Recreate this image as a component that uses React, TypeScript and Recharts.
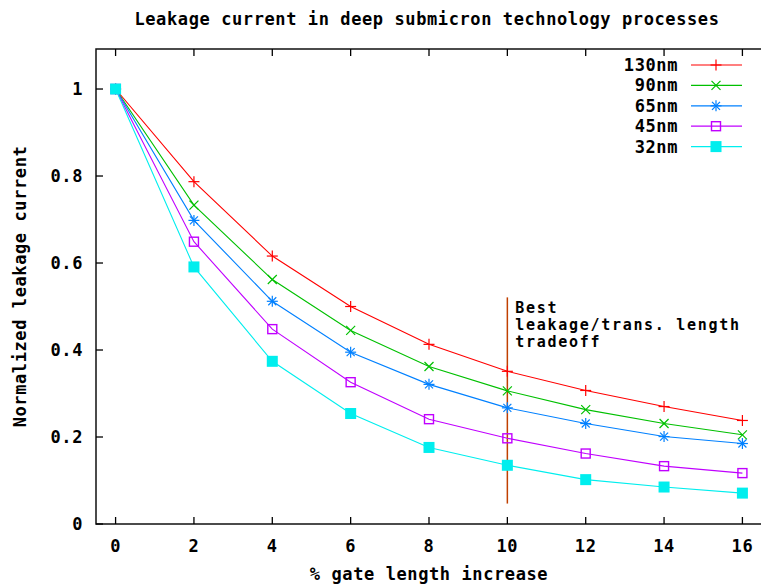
import React from 'react';
import {
  LineChart,
  Line,
  XAxis,
  YAxis,
  ReferenceArea,
  ReferenceLine,
  ReferenceDot,
  Legend,
} from 'recharts';

// % gate length increase
const gateIncrease = [0, 2, 4, 6, 8, 10, 12, 14, 16];

const leak130 = [1, 0.787, 0.616, 0.5, 0.413, 0.351, 0.307, 0.27, 0.238];
const leak90 = [1, 0.733, 0.562, 0.445, 0.362, 0.306, 0.263, 0.231, 0.205];
const leak65 = [1, 0.698, 0.512, 0.395, 0.321, 0.267, 0.231, 0.201, 0.185];
const leak45 = [1, 0.649, 0.448, 0.326, 0.241, 0.197, 0.162, 0.133, 0.117];
const leak32 = [1, 0.591, 0.374, 0.254, 0.176, 0.135, 0.102, 0.085, 0.071];

const xTicks = [0, 2, 4, 6, 8, 10, 12, 14, 16];
const yTicks = [0, 0.2, 0.4, 0.6, 0.8, 1];
const yTickLabels = ['0', '0.2', '0.4', '0.6', '0.8', '1'];

const tradeoffX = 10;
const tradeoffRange = [0.047, 0.521];
const tradeoffNote = ['Best', 'leakage/trans. length', 'tradeoff'];

const FONT = '"DejaVu Sans Mono", "Liberation Mono", monospace';

type Marker = 'plus' | 'cross' | 'star' | 'box' | 'boxFilled';

const series = [
  { key: 'n130', name: '130nm', values: leak130, color: '#ff0000', marker: 'plus' as Marker },
  { key: 'n90', name: '90nm', values: leak90, color: '#00c000', marker: 'cross' as Marker },
  { key: 'n65', name: '65nm', values: leak65, color: '#0080ff', marker: 'star' as Marker },
  { key: 'n45', name: '45nm', values: leak45, color: '#c000ff', marker: 'box' as Marker },
  { key: 'n32', name: '32nm', values: leak32, color: '#00eeee', marker: 'boxFilled' as Marker },
];

const data = gateIncrease.map((x, i) => {
  const row: Record<string, number> = { x };
  series.forEach((s) => {
    row[s.key] = s.values[i];
  });
  return row;
});

function drawMarker(kind: Marker, cx: number, cy: number, color: string) {
  const sw = 1.2;
  if (kind === 'plus') {
    return (
      <g stroke={color} strokeWidth={sw}>
        <line x1={cx - 5.5} y1={cy} x2={cx + 5.5} y2={cy} />
        <line x1={cx} y1={cy - 5.5} x2={cx} y2={cy + 5.5} />
      </g>
    );
  }
  if (kind === 'cross') {
    return (
      <g stroke={color} strokeWidth={sw}>
        <line x1={cx - 4.5} y1={cy - 4.5} x2={cx + 4.5} y2={cy + 4.5} />
        <line x1={cx - 4.5} y1={cy + 4.5} x2={cx + 4.5} y2={cy - 4.5} />
      </g>
    );
  }
  if (kind === 'star') {
    return (
      <g stroke={color} strokeWidth={sw}>
        <line x1={cx - 5.5} y1={cy} x2={cx + 5.5} y2={cy} />
        <line x1={cx} y1={cy - 5.5} x2={cx} y2={cy + 5.5} />
        <line x1={cx - 4} y1={cy - 4} x2={cx + 4} y2={cy + 4} />
        <line x1={cx - 4} y1={cy + 4} x2={cx + 4} y2={cy - 4} />
      </g>
    );
  }
  if (kind === 'box') {
    return <rect x={cx - 4.5} y={cy - 4.5} width={9} height={9} fill="none" stroke={color} strokeWidth={1.4} />;
  }
  return <rect x={cx - 5.5} y={cy - 5.5} width={11} height={11} fill={color} stroke="none" />;
}

const makeDot = (kind: Marker, color: string) => (props: any) => {
  const { cx, cy, index } = props;
  if (cx == null || cy == null) return <g key={index} />;
  return <g key={index}>{drawMarker(kind, cx, cy, color)}</g>;
};

const textStyle = { fontFamily: FONT, fontWeight: 700, fontSize: 17, letterSpacing: 0.6, fill: '#000' };

const BottomTick = (props: any) => {
  const { x, y, payload } = props;
  return (
    <g>
      <line x1={x} y1={y} x2={x} y2={y - 7} stroke="#000" strokeWidth={1.3} />
      <text x={x} y={y + 28} textAnchor="middle" style={textStyle}>
        {payload.value}
      </text>
    </g>
  );
};

const TopTick = (props: any) => {
  const { x, y } = props;
  return <line x1={x} y1={y} x2={x} y2={y + 7} stroke="#000" strokeWidth={1.3} />;
};

const LeftTick = (props: any) => {
  const { x, y, payload } = props;
  const idx = yTicks.indexOf(payload.value);
  return (
    <g>
      <line x1={x} y1={y} x2={x + 7} y2={y} stroke="#000" strokeWidth={1.3} />
      <text x={x - 13} y={y + 6} textAnchor="end" style={textStyle}>
        {idx >= 0 ? yTickLabels[idx] : payload.value}
      </text>
    </g>
  );
};

const RightTick = (props: any) => {
  const { x, y } = props;
  return <line x1={x} y1={y} x2={x - 7} y2={y} stroke="#000" strokeWidth={1.3} />;
};

const renderLegend = () => (
  <svg width={761} height={170} style={{ position: 'absolute', left: 0, top: 0 }}>
    {series.map((s, i) => {
      const cy = 65 + i * 20.4;
      return (
        <g key={s.key}>
          <text x={678} y={cy + 6} textAnchor="end" style={textStyle}>
            {s.name}
          </text>
          <line x1={691} y1={cy} x2={742} y2={cy} stroke={s.color} strokeWidth={1.2} />
          {drawMarker(s.marker, 716, cy, s.color)}
        </g>
      );
    })}
  </svg>
);

const NoteLabel = (props: any) => {
  const { viewBox } = props;
  const x = viewBox.x + viewBox.width / 2 + 8;
  const y = viewBox.y + viewBox.height / 2;
  return (
    <g>
      {tradeoffNote.map((t, i) => (
        <text key={i} x={x} y={y + 16 + i * 17} style={{ ...textStyle, fontSize: 15, letterSpacing: 1.7 }}>
          {t}
        </text>
      ))}
    </g>
  );
};

const TitleLabel = (props: any) => {
  const { viewBox } = props;
  return (
    <text x={viewBox.x + viewBox.width / 2 - 2} y={25} textAnchor="middle" style={textStyle}>
      Leakage current in deep submicron technology processes
    </text>
  );
};

const XTitle = (props: any) => {
  const { viewBox } = props;
  return (
    <text x={viewBox.x + viewBox.width / 2} y={580} textAnchor="middle" style={textStyle}>
      % gate length increase
    </text>
  );
};

const YTitle = (props: any) => {
  const { viewBox } = props;
  const cy = viewBox.y + viewBox.height / 2;
  return (
    <text x={26} y={cy} textAnchor="middle" transform={`rotate(-90, 26, ${cy})`} style={textStyle}>
      Normalized leakage current
    </text>
  );
};

export default function App() {
  return (
    <div style={{ position: 'absolute', left: 0, top: 0, width: 761, height: 584, overflow: 'hidden', background: '#fff' }}>
      <LineChart width={763} height={584} data={data} margin={{ top: 0, right: 0, bottom: 0, left: 0 }}>
        <XAxis
          dataKey="x"
          type="number"
          domain={[-0.5, 16.5]}
          ticks={xTicks}
          height={60}
          tickSize={0}
          tickMargin={0}
          axisLine={false}
          tickLine={false}
          tick={<BottomTick />}
          label={<XTitle />}
        />
        <XAxis
          xAxisId="top"
          dataKey="x"
          type="number"
          orientation="top"
          domain={[-0.5, 16.5]}
          ticks={xTicks}
          height={49}
          tickSize={0}
          tickMargin={0}
          axisLine={false}
          tickLine={false}
          tick={<TopTick />}
          label={<TitleLabel />}
        />
        <YAxis
          type="number"
          domain={[0, 1.092]}
          ticks={yTicks}
          width={96}
          tickSize={0}
          tickMargin={0}
          axisLine={false}
          tickLine={false}
          tick={<LeftTick />}
          label={<YTitle />}
        />
        <YAxis
          yAxisId="right"
          type="number"
          orientation="right"
          domain={[0, 1.092]}
          ticks={yTicks}
          width={1}
          tickSize={0}
          tickMargin={0}
          axisLine={false}
          tickLine={false}
          tick={<RightTick />}
        />
        <ReferenceArea
          x1={-0.5}
          x2={16.5}
          y1={0}
          y2={1.092}
          fill="none"
          stroke="#111"
          strokeWidth={1.5}
          ifOverflow="visible"
        />
        <ReferenceLine
          segment={[
            { x: tradeoffX, y: tradeoffRange[0] },
            { x: tradeoffX, y: tradeoffRange[1] },
          ]}
          stroke="#c04000"
          strokeWidth={1.5}
        />
        <ReferenceDot x={tradeoffX} y={tradeoffRange[1]} r={0} fill="none" stroke="none" label={<NoteLabel />} />
        {series.map((s) => (
          <Line
            key={s.key}
            dataKey={s.key}
            name={s.name}
            stroke={s.color}
            strokeWidth={1.1}
            type="linear"
            dot={makeDot(s.marker, s.color)}
            activeDot={false}
            isAnimationActive={false}
          />
        ))}
        <Legend
          layout="vertical"
          align="center"
          verticalAlign="middle"
          content={renderLegend}
          wrapperStyle={{ left: 0, top: 0, width: 761, height: 170 }}
        />
      </LineChart>
    </div>
  );
}
